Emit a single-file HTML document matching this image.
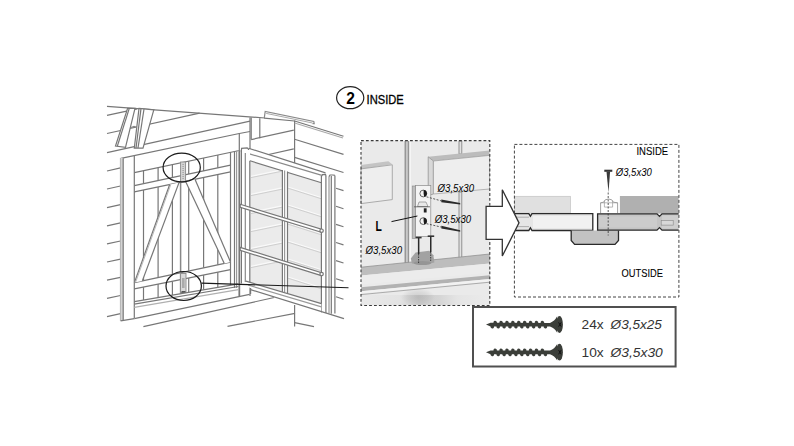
<!DOCTYPE html>
<html><head><meta charset="utf-8">
<style>
html,body{margin:0;padding:0;background:#fff;}
body{width:794px;height:446px;overflow:hidden;position:relative;font-family:"Liberation Sans",sans-serif;}
svg{position:absolute;left:0;top:0;}
</style></head>
<body>
<svg width="794" height="446" viewBox="0 0 794 446">
<rect width="794" height="446" fill="#fff"/>

<!-- ===== HEADER ===== -->
<ellipse cx="350.2" cy="97.7" rx="13.6" ry="11" fill="none" stroke="#222" stroke-width="1.2"/>
<text x="350.6" y="104" font-family="Liberation Sans" font-weight="bold" font-size="15.6" text-anchor="middle" fill="#000">2</text>
<text x="366.6" y="104" font-family="Liberation Sans" font-size="12.6" fill="#000" stroke="#000" stroke-width="0.3" textLength="37.2" lengthAdjust="spacingAndGlyphs">INSIDE</text>

<!-- ===== LEFT DRAWING ===== -->
<g id="left" fill="none" stroke="#777" stroke-width="1.2">
  <!-- roof -->
  <line x1="107" y1="106.4" x2="265" y2="118"/>
  <polyline points="264.3,117.8 265.2,111.4 313.8,121.5 314.2,123.6 312.5,123.6" stroke="#8a8a8a"/>
  <line x1="266.2" y1="113.4" x2="312.5" y2="123" stroke="#aaa" stroke-width="1"/>
  <line x1="107" y1="115.4" x2="137" y2="108.8"/>
  <line x1="107" y1="133.5" x2="199.6" y2="113.2"/>
  <line x1="107" y1="152.6" x2="250" y2="121.2"/>
  <polyline points="121,158.4 239.3,133.5 250,131.5"/>
  <line x1="239.3" y1="133.5" x2="239.3" y2="151"/>
  <line x1="250" y1="117.5" x2="250" y2="150"/>
  <line x1="251.2" y1="117.6" x2="251.2" y2="139.5"/>
  <line x1="259.8" y1="118.3" x2="259.8" y2="138.2"/>
  <line x1="251.2" y1="139.6" x2="293.8" y2="130.2"/>
  <line x1="262" y1="156" x2="293.8" y2="148.8"/>
  <line x1="264.2" y1="118.1" x2="294.6" y2="121"/>
  <!-- building corner + side wall -->
  <line x1="294.6" y1="120.5" x2="294.6" y2="165"/>
  <line x1="294.6" y1="305" x2="294.6" y2="326.6"/>
  <line x1="294.6" y1="121" x2="343.5" y2="136.2"/>
  <line x1="294.6" y1="123" x2="343" y2="138" stroke="#aaa"/>
  <line x1="294.6" y1="139.3" x2="343.5" y2="154.4"/>
  <line x1="294.6" y1="157.4" x2="343.5" y2="172.5"/>
  <g>
  <line x1="336" y1="188.2" x2="343.5" y2="190.6"/>
  <line x1="336" y1="206.3" x2="343.5" y2="208.7"/>
  <line x1="336" y1="224.4" x2="343.5" y2="226.8"/>
  <line x1="336" y1="242.5" x2="343.5" y2="244.9"/>
  <line x1="336" y1="260.6" x2="343.5" y2="263"/>
  <line x1="336" y1="278.7" x2="343.5" y2="281.1"/>
  <line x1="336" y1="296.8" x2="343.5" y2="299.2"/>
  <line x1="294.6" y1="322.6" x2="314" y2="326.6"/>
  </g>
  <!-- roof brackets (slanted boards) -->
  <polygon points="127.6,108.4 135,108.4 125.5,147.4 115.5,146" fill="#fff"/>
  <line x1="129.2" y1="108.6" x2="117.3" y2="146.2"/>
  <polygon points="139,108.4 153.8,109.8 143,148.1 134.3,148.1" fill="#fff"/>
  <line x1="141" y1="108.6" x2="136" y2="148"/>
  <line x1="144" y1="109" x2="138" y2="148"/>
  <path d="M131,127.5 l3,-1 l3,1" stroke="#888"/>

  <!-- left siding -->
  <g>
  <line x1="107" y1="171" x2="120.5" y2="167.8"/>
  <line x1="107" y1="189" x2="120.5" y2="186"/>
  <line x1="107" y1="207.6" x2="120.5" y2="204.7"/>
  <line x1="107" y1="225.8" x2="120.5" y2="222.9"/>
  <line x1="107" y1="243.8" x2="120.5" y2="241"/>
  <line x1="107" y1="262" x2="120.5" y2="259.1"/>
  <line x1="107" y1="280.2" x2="120.5" y2="277.3"/>
  <line x1="107" y1="298.4" x2="120.5" y2="295.5"/>
  <line x1="107" y1="316.6" x2="120.5" y2="313.7"/>
  </g>
  <!-- left frame post -->
  <rect x="120.2" y="158" width="2.8" height="162.8" fill="#d4d4d4" stroke="none"/>
  <line x1="120.4" y1="157.8" x2="120.4" y2="320.8" stroke="#aaa" stroke-width="0.8"/>
  <line x1="123.2" y1="158.2" x2="123.2" y2="321"/>
  <line x1="134.3" y1="156" x2="134.3" y2="318"/>
  <!-- shutter (closed, Z brace) -->
  <line x1="134.3" y1="172.6" x2="239.3" y2="150.5"/>
  <line x1="134.3" y1="185.7" x2="230.5" y2="165.1"/>
  <line x1="134.3" y1="191.9" x2="230.5" y2="171.8"/>
  <line x1="134.3" y1="282.6" x2="230.5" y2="262.1"/>
  <line x1="134.3" y1="288.9" x2="230.5" y2="269.7"/>
  <line x1="143.5" y1="170.7" x2="143.5" y2="183.7"/>
  <line x1="143.5" y1="190.0" x2="143.5" y2="280.6"/>
  <line x1="143.5" y1="287.1" x2="143.5" y2="300.0"/>
  <line x1="158.1" y1="167.6" x2="158.1" y2="180.6"/>
  <line x1="158.1" y1="186.9" x2="158.1" y2="277.5"/>
  <line x1="158.1" y1="284.1" x2="158.1" y2="297.5"/>
  <line x1="172.4" y1="164.6" x2="172.4" y2="177.5"/>
  <line x1="172.4" y1="183.9" x2="172.4" y2="274.5"/>
  <line x1="172.4" y1="281.3" x2="172.4" y2="295.1"/>
  <line x1="188.7" y1="161.2" x2="188.7" y2="174.1"/>
  <line x1="188.7" y1="180.5" x2="188.7" y2="271.0"/>
  <line x1="188.7" y1="278.0" x2="188.7" y2="292.3"/>
  <line x1="203.6" y1="158.0" x2="203.6" y2="170.9"/>
  <line x1="203.6" y1="177.4" x2="203.6" y2="267.8"/>
  <line x1="203.6" y1="275.0" x2="203.6" y2="289.7"/>
  <line x1="217.8" y1="155.1" x2="217.8" y2="167.8"/>
  <line x1="217.8" y1="174.4" x2="217.8" y2="264.8"/>
  <line x1="217.8" y1="272.2" x2="217.8" y2="287.3"/>

  <!-- right edge of shutter / frame right post -->
  <line x1="230.5" y1="152" x2="230.5" y2="285"/>
  <line x1="234.5" y1="151.2" x2="234.5" y2="288"/>
  <line x1="236.6" y1="150.8" x2="236.6" y2="288" stroke="#999"/>
  <line x1="238.8" y1="150.4" x2="238.8" y2="296" stroke="#aaa" stroke-width="1.4"/>
  <line x1="239.6" y1="150.4" x2="239.6" y2="296"/>
  <!-- diagonal braces (inverted V) -->
  <line x1="180.6" y1="182.2" x2="180.6" y2="293.7" stroke-width="1.5" stroke="#888"/>
  <polygon points="169.7,184.5 179,182.6 142.3,280.9 134.4,282.6" fill="#fff" stroke="none"/>
  <line x1="169.7" y1="184.5" x2="134.4" y2="282.6"/>
  <line x1="179" y1="182.6" x2="142.3" y2="280.9"/>
  <line x1="170.9" y1="184.3" x2="135.8" y2="281.8" stroke="#aaa" stroke-width="0.8"/>
  <polygon points="185.5,181.2 195,179.2 230.5,262.1 224.3,263.4" fill="#fff" stroke="none"/>
  <line x1="185.5" y1="181.2" x2="224.3" y2="263.4"/>
  <line x1="195" y1="179.2" x2="230.5" y2="262.1"/>
  <!-- center hinge strip -->
  <rect x="180.6" y="162" width="5" height="20" fill="#d4d4d4" stroke="#8a8a8a" stroke-width="0.9"/><line x1="183.1" y1="164" x2="183.1" y2="180" stroke="#999" stroke-dasharray="1,1"/>
  <rect x="180.6" y="273.5" width="5.4" height="19" fill="#dadada" stroke="#8a8a8a" stroke-width="0.9"/><rect x="182" y="278" width="2.6" height="10" fill="#aaa" stroke="none"/><rect x="181.5" y="291" width="4" height="1.8" fill="#555" stroke="none"/>
  <!-- sill / bottom -->
  <line x1="134.3" y1="301.6" x2="238.4" y2="283.8"/>
  <line x1="134.3" y1="304.2" x2="238.4" y2="286.5"/>
  <line x1="134.3" y1="307.4" x2="238.4" y2="289.6" stroke="#b0b0b0"/>
  <line x1="134.3" y1="318.6" x2="249.6" y2="294.4"/>
  <line x1="120.6" y1="320.9" x2="134.3" y2="318.6"/>
  <line x1="143.4" y1="326.6" x2="274.2" y2="297.5"/>
  <line x1="227.5" y1="326.4" x2="295" y2="313.3"/>
  <line x1="250" y1="282" x2="250" y2="296"/>

  <!-- ===== open window ===== -->
  <polygon points="250,160.8 321.4,182.8 321.4,304 250,284" fill="#ebebeb" stroke="none"/>
  <!-- siding lines seen through glass -->
  <g stroke="#f9f9f9" stroke-width="1.3">
   <line x1="251" y1="176.4" x2="282" y2="170"/>
   <line x1="251" y1="194.4" x2="282" y2="188"/>
   <line x1="251" y1="212.4" x2="282" y2="206"/>
   <line x1="251" y1="230.4" x2="282" y2="224"/>
   <line x1="251" y1="248.4" x2="282" y2="242"/>
   <line x1="251" y1="266.4" x2="282" y2="260"/>
   <line x1="288" y1="187" x2="321" y2="197.5"/>
   <line x1="288" y1="205" x2="321" y2="215.5"/>
   <line x1="288" y1="223" x2="321" y2="233.5"/>
   <line x1="288" y1="241" x2="321" y2="251.5"/>
   <line x1="288" y1="259" x2="321" y2="269.5"/>
   <line x1="288" y1="277" x2="321" y2="287.5"/>
  </g>
  <g stroke="#c6c6c6" stroke-width="0.8">
   <line x1="251" y1="177.6" x2="282" y2="171.2"/>
   <line x1="251" y1="195.6" x2="282" y2="189.2"/>
   <line x1="251" y1="213.6" x2="282" y2="207.2"/>
   <line x1="251" y1="231.6" x2="282" y2="225.2"/>
   <line x1="251" y1="249.6" x2="282" y2="243.2"/>
   <line x1="251" y1="267.6" x2="282" y2="261.2"/>
   <line x1="288" y1="188.2" x2="321" y2="198.7"/>
   <line x1="288" y1="206.2" x2="321" y2="216.7"/>
   <line x1="288" y1="224.2" x2="321" y2="234.7"/>
   <line x1="288" y1="242.2" x2="321" y2="252.7"/>
   <line x1="288" y1="260.2" x2="321" y2="270.7"/>
   <line x1="288" y1="278.2" x2="321" y2="288.7"/>
  </g>
  <!-- top rail -->
  <polygon points="241.2,148.4 248.5,148.2 325.5,172.9 334.9,175.3 334.9,180 321.4,182.8 250,160.8 241.2,160" fill="#fff" stroke="none"/>
  <line x1="248.5" y1="148.2" x2="325.5" y2="172.9"/>
  <line x1="245.5" y1="152.7" x2="321.9" y2="175.4" stroke="#8a8a8a"/>
  <line x1="250" y1="160.8" x2="321.4" y2="182.8"/>
  <path d="M241.3,151.5 L241.6,148.4 L247.2,147.9 L248.6,149.4 L248.4,151.6"/>
  <!-- left stile -->
  <rect x="241.3" y="150" width="8.7" height="134" fill="#fff" stroke="none"/>
  <line x1="241.4" y1="150" x2="241.4" y2="283.5"/>
  <line x1="245.3" y1="153" x2="245.3" y2="282" stroke="#888"/>
  <line x1="249.8" y1="160.8" x2="249.8" y2="284.5"/>
  <!-- muntin -->
  <rect x="282.4" y="169" width="5.1" height="125" fill="#fff" stroke="none"/>
  <line x1="282.4" y1="170" x2="282.4" y2="292"/>
  <line x1="284.6" y1="170.5" x2="284.6" y2="292.5" stroke="#999"/>
  <line x1="287.5" y1="171.5" x2="287.5" y2="293.5"/>
  <!-- right stile -->
  <rect x="321.4" y="175.6" width="13.5" height="138" fill="#fff" stroke="none"/>
  <line x1="321.4" y1="176" x2="321.4" y2="312.5"/>
  <line x1="325.9" y1="176" x2="325.9" y2="313"/>
  <line x1="329" y1="176.5" x2="329" y2="313.5" stroke="#999"/>
  <line x1="331.3" y1="176" x2="331.3" y2="313.8"/>
  <line x1="334.9" y1="175.4" x2="334.9" y2="313.6"/>
  <path d="M321.4,176.5 L322.5,174.6 L325.5,174.4 L326,176.2 M329,176.6 L330,175 L333,175 L334.9,175.4"/>
  <!-- bottom rail -->
  <polygon points="246,281.2 321.4,303.6 321.4,313 250.6,289.6" fill="#fff" stroke="none"/>
  <line x1="246" y1="281.2" x2="321.4" y2="303.6"/>
  <line x1="248" y1="285" x2="321.4" y2="306.8" stroke="#9a9a9a"/>
  <line x1="250.6" y1="289.6" x2="344" y2="318.6"/>
  <line x1="250.6" y1="288" x2="250.6" y2="294"/>
  <!-- rods -->
  <polygon points="240.2,204.3 321.4,229.2 321.4,232.2 240.2,207.3" fill="#fff"/>
  <circle cx="321.6" cy="230.7" r="1.7" fill="#fff"/>
  <polygon points="240.2,247.4 321.4,272.6 321.4,275.6 240.2,250.4" fill="#fff"/>
  <circle cx="321.6" cy="274.1" r="1.7" fill="#fff"/>
</g>
<!-- ellipses and leader -->
<ellipse cx="181.7" cy="167.5" rx="18.6" ry="14.4" fill="none" stroke="#1a1a1a" stroke-width="1.2"/>
<ellipse cx="183.7" cy="286" rx="17.7" ry="14.5" fill="none" stroke="#1a1a1a" stroke-width="1.2"/>
<line x1="201.6" y1="283.1" x2="348.5" y2="287.8" stroke="#1a1a1a" stroke-width="1.1"/>

<!-- ===== MIDDLE DETAIL BOX ===== -->
<g id="mid">
  <defs>
    <linearGradient id="shadowG" x1="0" y1="0" x2="1" y2="0">
      <stop offset="0" stop-color="#e9e9e9"/>
      <stop offset="0.3" stop-color="#e2e2e2"/>
      <stop offset="0.45" stop-color="#c9c9c9"/>
      <stop offset="0.6" stop-color="#d2d2d2"/>
      <stop offset="0.75" stop-color="#e4e4e4"/>
      <stop offset="1" stop-color="#ebebeb"/>
    </linearGradient>
    <clipPath id="midclip"><rect x="361" y="140.6" width="128.8" height="164.9"/></clipPath>
    <radialGradient id="shadowR" cx="0.5" cy="0.5" r="0.5">
      <stop offset="0" stop-color="#999" stop-opacity="0.35"/>
      <stop offset="0.6" stop-color="#999" stop-opacity="0.18"/>
      <stop offset="1" stop-color="#999" stop-opacity="0"/>
    </radialGradient>
  </defs>
  <rect x="361" y="140.6" width="128.8" height="164.7" fill="#eaeaea"/>
  <!-- left block -->
  <polygon points="361,164.9 388.3,161.2 392.3,164.3 361,168.9" fill="#c4c4c4"/>
  <polygon points="361,168.9 392.3,164.8 392.3,199.6 361,203.6" fill="#eeeeee" stroke="#9a9a9a" stroke-width="0.8"/>
  <!-- frame post -->
  <rect x="404.6" y="141" width="4.8" height="122" fill="#c8c8c8"/>
  <line x1="405.3" y1="141" x2="405.3" y2="263" stroke="#959595" stroke-width="1.3"/>
  <line x1="408.6" y1="141" x2="408.6" y2="263" stroke="#959595" stroke-width="1.5"/>
  <rect x="409.4" y="141" width="1.3" height="122" fill="#fafafa"/>
  <!-- thin bar right -->
  <rect x="459" y="141" width="2.8" height="13" fill="#e2e2e2" stroke="#888" stroke-width="0.9"/>
  <rect x="459" y="192" width="2.8" height="66" fill="#e2e2e2" stroke="#888" stroke-width="0.9"/>
  <!-- right panel -->
  <polygon points="428.2,156.8 489.5,150.6 489.5,155.4 433.4,161" fill="#bcbcbc"/>
  <polygon points="428.2,156.8 433.4,161 433.4,194 428.2,195.5" fill="#d8d8d8" stroke="#8a8a8a" stroke-width="0.7"/>
  <polygon points="433.4,161 489.5,155.4 489.5,189 433.4,194" fill="#eeeeee" stroke="#9a9a9a" stroke-width="0.7"/>
  <!-- hinge plate -->
  <rect x="412.2" y="186" width="3.4" height="52.5" fill="#bdbdbd" stroke="#888" stroke-width="0.6"/>
  <rect x="415.6" y="185.4" width="15.2" height="51" fill="#f3f3f3" stroke="#8a8a8a" stroke-width="0.7"/>
  <!-- knuckle -->
  <path d="M417.5,206.5 L419,202 L426,202 L428,206.5 Z" fill="#e8e8e8" stroke="#777" stroke-width="0.6"/>
  <line x1="414" y1="206.8" x2="430" y2="206.8" stroke="#555" stroke-width="0.8"/>
  <rect x="423.8" y="208.3" width="2.8" height="4.2" fill="#222"/>
  <!-- screw heads on plate -->
  <circle cx="423.3" cy="193.5" r="3.4" fill="#f4f4f4" stroke="#444" stroke-width="0.8"/>
  <path d="M423.6,190.1 A3.4,3.4 0 0 1 424.2,196.8 L423.6,193.5 Z" fill="#1a1a1a"/>
  <path d="M424,190.6 A3,3 0 0 1 426.3,194.6 L424.5,195.8 Z" fill="#1a1a1a"/>
  <circle cx="423.3" cy="221.1" r="3.4" fill="#f4f4f4" stroke="#444" stroke-width="0.8"/>
  <path d="M424,218.2 A3,3 0 0 1 426.3,222.2 L424.5,223.4 Z" fill="#1a1a1a"/>
  <path d="M423.6,217.7 A3.4,3.4 0 0 1 424.2,224.4 L423.6,221.1 Z" fill="#1a1a1a"/>
  <!-- dashed guides + screw shanks -->
  <line x1="426.5" y1="196.8" x2="441.3" y2="200.9" stroke="#333" stroke-width="0.8" stroke-dasharray="2,1.5"/>
  <path d="M441.3,199.6 L460.2,202.9 L460.2,204.4 L441.3,202.2 Z" fill="#2a2a2a"/>
  <line x1="426.5" y1="223.7" x2="441.3" y2="227.1" stroke="#333" stroke-width="0.8" stroke-dasharray="2,1.5"/>
  <path d="M441.3,225.8 L460.2,230.3 L460.2,231.8 L441.3,228.4 Z" fill="#2a2a2a"/>
  <!-- sill -->
  <polygon points="361,267.2 489.8,254 489.8,263.4 361,275.6" fill="#bdbdbd"/>
  <polygon points="361,275.6 489.8,263.4 489.8,272.6 361,284.4" fill="#ececec"/>
  <polygon points="361,287.2 489.8,275.2 489.8,279 361,291.2" fill="#b2b2b2"/>
  <polygon points="361,291.2 489.8,279 489.8,281.4 361,293.6" fill="#f2f2f2"/>
  <line x1="361" y1="294.6" x2="489.8" y2="282.2" stroke="#9a9a9a" stroke-width="0.8"/>
  <rect x="361" y="295" width="128.8" height="10.3" fill="url(#shadowG)" opacity="0.9"/>
  <ellipse cx="418" cy="297" rx="17" ry="9" fill="url(#shadowR)" clip-path="url(#midclip)"/>
  <line x1="361" y1="267.2" x2="489.8" y2="254" stroke="#8a8a8a" stroke-width="0.7"/>
  <!-- bottom bracket -->
  <polygon points="410.8,258.6 415.6,252.4 429.2,250.7 433.4,255.2 434.4,262.4 424.2,264.6 412,263.6" fill="#a2a2a2"/>
  <ellipse cx="422.5" cy="263" rx="9" ry="2" fill="#959595"/>
  <!-- down screws -->
  <rect x="415.6" y="236.8" width="6" height="1.6" fill="#333"/>
  <rect x="417.9" y="238" width="1.5" height="16" fill="#2a2a2a"/>
  <line x1="418.6" y1="254" x2="418.6" y2="263.5" stroke="#222" stroke-width="0.8" stroke-dasharray="1.5,1"/>
  <rect x="427.7" y="235.4" width="6.5" height="1.6" fill="#333"/>
  <rect x="430" y="236.6" width="1.5" height="15.6" fill="#2a2a2a"/>
  <line x1="430.7" y1="252" x2="430.7" y2="262" stroke="#222" stroke-width="0.8" stroke-dasharray="1.5,1"/>
  <!-- leader from L -->
  <line x1="391.5" y1="221.6" x2="417.4" y2="216" stroke="#111" stroke-width="1"/>
  <!-- texts -->
  <text x="0" y="0" font-family="Liberation Sans" font-weight="bold" font-size="15.2" fill="#000" transform="translate(375.6 230.8) scale(0.68 1)">L</text>
  <text x="437.6" y="191.6" font-family="Liberation Sans" font-style="italic" font-size="11.6" fill="#000" textLength="36.4" lengthAdjust="spacingAndGlyphs">Ø3,5x30</text>
  <text x="434.7" y="223" font-family="Liberation Sans" font-style="italic" font-size="11.6" fill="#000" textLength="36.4" lengthAdjust="spacingAndGlyphs">Ø3,5x30</text>
  <text x="365.6" y="253.6" font-family="Liberation Sans" font-style="italic" font-size="11.6" fill="#000" textLength="36.4" lengthAdjust="spacingAndGlyphs">Ø3,5x30</text>
  <rect x="361" y="140.6" width="128.8" height="164.9" fill="none" stroke="#3a3a3a" stroke-width="1.1" stroke-dasharray="2.8,2.1"/>
</g>

<!-- ===== RIGHT SECTION BOX ===== -->
<g id="right">
  <rect x="514.4" y="144.4" width="164.5" height="152.6" fill="#fff"/>
  <!-- upper left light block -->
  <rect x="514.7" y="196.3" width="55.8" height="16.8" fill="#e0e0e0" stroke="#c4c4c4" stroke-width="0.7"/>
  <!-- upper right darker block -->
  <rect x="619.9" y="196" width="58.7" height="17.6" fill="#b0b0b0"/>
  <!-- left board -->
  <path d="M514.7,213.6 L528.8,213.6 L530.4,216.2 L532,213.6 L592.8,213.6 L592.8,230.5 L532,230.5 L530.4,227.8 L528.8,230.5 L514.7,230.5" fill="#e6e6e6" stroke="#2a2a2a" stroke-width="1.3"/>
  <rect x="533" y="216" width="59" height="12.2" fill="#f4f4f4" opacity="0.8"/>
  <path d="M514.7,217.2 L529,217.2 M514.7,226.6 L529,226.6" stroke="#888" stroke-width="0.6" fill="none"/>
  <!-- batten -->
  <path d="M571.2,230.5 L571.2,240.5 L574.6,244.4 L615,244.4 L618.5,240.5 L618.5,230.5" fill="#c2c2c2" stroke="#2a2a2a" stroke-width="1.3"/>
  <!-- right board -->
  <path d="M678.6,213.8 L662,213.8 L659.5,216.4 L657,213.8 L597.6,213.8 L597.6,230.2 L657,230.2 L659.5,227.6 L662,230.2 L678.6,230.2" fill="#c4c4c4" stroke="#2a2a2a" stroke-width="1.3"/>
  <rect x="599" y="216.5" width="58" height="11" fill="#d0d0d0" opacity="0.7"/>
  <rect x="662" y="215.5" width="16" height="13" fill="#d4d4d4" opacity="0.7"/>
  <rect x="661.2" y="220.5" width="12" height="4.6" fill="#d8d8d8" stroke="#888" stroke-width="0.6"/>
  <!-- cap over screw -->
  <path d="M600.6,213 L600.6,202.8 L603.6,202.2 Q604.5,199 608.5,199 Q612.5,199 613.4,202.2 L617.6,202.8 L617.6,213" fill="#fff" stroke="#8a8a8a" stroke-width="0.8"/>
  <path d="M600.6,202.8 L617.6,202.8 M604.4,200.6 L604.4,207.1 M612.6,200.6 L612.6,207.1 M604.4,207.1 L612.6,207.1" fill="none" stroke="#9a9a9a" stroke-width="0.7"/>
  <!-- screw -->
  <rect x="604.3" y="169.7" width="8" height="2.1" fill="#333"/>
  <path d="M606.5,171.5 L610.1,171.5 L608.5,192.6 Z" fill="#3a3a3a"/>
  <line x1="608.2" y1="192.5" x2="608.2" y2="235.5" stroke="#333" stroke-width="0.8" stroke-dasharray="2,1.5"/>
  <!-- texts -->
  <text x="636.4" y="154.8" font-family="Liberation Sans" font-size="10.4" fill="#000" stroke="#000" stroke-width="0.08" textLength="31.7" lengthAdjust="spacingAndGlyphs">INSIDE</text>
  <text x="615.8" y="175.8" font-family="Liberation Sans" font-style="italic" font-size="11.6" fill="#000" textLength="35.9" lengthAdjust="spacingAndGlyphs">Ø3,5x30</text>
  <rect x="514.4" y="144.4" width="164.5" height="152.6" fill="none" stroke="#444" stroke-width="1" stroke-dasharray="3,2"/>
  <text x="621.6" y="276.8" font-family="Liberation Sans" font-size="10.4" fill="#000" stroke="#000" stroke-width="0.08" textLength="41.4" lengthAdjust="spacingAndGlyphs">OUTSIDE</text>
</g>

<!-- ===== ARROW ===== -->
<path d="M486.1,206.4 L502.3,206.4 L502.3,189.7 L519,222.85 L502.3,256 L502.3,239.3 L486.1,239.3 Z" fill="#fff" stroke="#333" stroke-width="1.3" stroke-linejoin="miter"/>

<!-- ===== SCREWS BOX ===== -->
<g id="screws">
  <rect x="473" y="307" width="202.6" height="59.5" fill="#fff" stroke="#505050" stroke-width="2"/>
  <g id="screw1" fill="#3b3e39">
    <path d="M486,324.6 L490.5,322.7 L550,322.9 Q554.5,321.3 557.2,316.3 L557.2,332.7 Q554.5,327.9 550,326.5 L490.5,326.5 Z"/>
    <ellipse cx="559.5" cy="324.5" rx="3.4" ry="8.4"/>
    <path d="M558.6,322.4 L561.2,326.6 M561.2,322.4 L558.6,326.6" stroke="#111" stroke-width="1"/>
    <ellipse cx="495.2" cy="322.5" rx="1.8" ry="1.7" transform="rotate(25 495.2 322.5)"/><ellipse cx="501.1" cy="322.5" rx="1.8" ry="1.7" transform="rotate(25 501.1 322.5)"/><ellipse cx="507.0" cy="322.5" rx="1.8" ry="1.7" transform="rotate(25 507.0 322.5)"/><ellipse cx="512.9" cy="322.5" rx="1.8" ry="1.7" transform="rotate(25 512.9 322.5)"/><ellipse cx="518.8" cy="322.5" rx="1.8" ry="1.7" transform="rotate(25 518.8 322.5)"/><ellipse cx="524.7" cy="322.5" rx="1.8" ry="1.7" transform="rotate(25 524.7 322.5)"/><ellipse cx="530.6" cy="322.5" rx="1.8" ry="1.7" transform="rotate(25 530.6 322.5)"/><ellipse cx="536.5" cy="322.5" rx="1.8" ry="1.7" transform="rotate(25 536.5 322.5)"/><ellipse cx="542.4" cy="322.5" rx="1.8" ry="1.7" transform="rotate(25 542.4 322.5)"/>
    <ellipse cx="492.3" cy="326.8" rx="1.8" ry="1.7" transform="rotate(25 492.3 326.8)"/><ellipse cx="498.2" cy="326.8" rx="1.8" ry="1.7" transform="rotate(25 498.2 326.8)"/><ellipse cx="504.1" cy="326.8" rx="1.8" ry="1.7" transform="rotate(25 504.1 326.8)"/><ellipse cx="510.0" cy="326.8" rx="1.8" ry="1.7" transform="rotate(25 510.0 326.8)"/><ellipse cx="515.9" cy="326.8" rx="1.8" ry="1.7" transform="rotate(25 515.9 326.8)"/><ellipse cx="521.8" cy="326.8" rx="1.8" ry="1.7" transform="rotate(25 521.8 326.8)"/><ellipse cx="527.7" cy="326.8" rx="1.8" ry="1.7" transform="rotate(25 527.7 326.8)"/><ellipse cx="533.6" cy="326.8" rx="1.8" ry="1.7" transform="rotate(25 533.6 326.8)"/><ellipse cx="539.5" cy="326.8" rx="1.8" ry="1.7" transform="rotate(25 539.5 326.8)"/><ellipse cx="545.4" cy="326.8" rx="1.8" ry="1.7" transform="rotate(25 545.4 326.8)"/>
  </g>
  <use href="#screw1" transform="translate(0,27.7)"/>
  <text x="581.6" y="328.8" font-family="Liberation Sans" font-size="12.6" fill="#333" textLength="22.1" lengthAdjust="spacingAndGlyphs">24x</text>
  <text x="610.6" y="328.8" font-family="Liberation Sans" font-style="italic" font-size="12.6" fill="#333" textLength="51.2" lengthAdjust="spacingAndGlyphs">Ø3,5x25</text>
  <text x="581.6" y="356.9" font-family="Liberation Sans" font-size="12.6" fill="#333" textLength="22.1" lengthAdjust="spacingAndGlyphs">10x</text>
  <text x="610.6" y="356.9" font-family="Liberation Sans" font-style="italic" font-size="12.6" fill="#333" textLength="52.2" lengthAdjust="spacingAndGlyphs">Ø3,5x30</text>
</g>

</svg>
</body></html>
